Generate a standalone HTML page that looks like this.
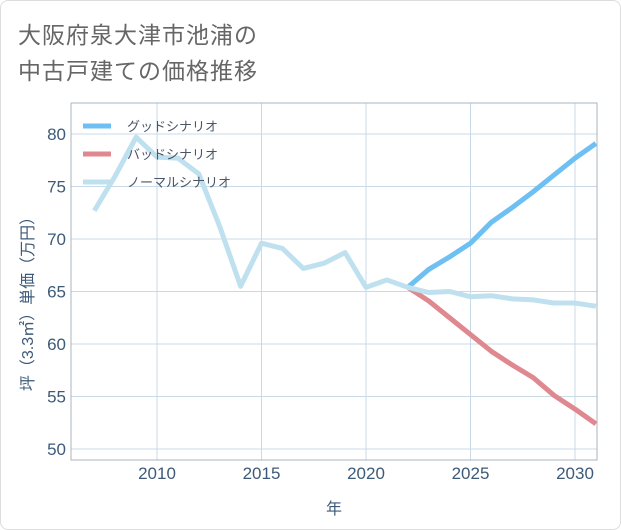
<!DOCTYPE html>
<html><head><meta charset="utf-8"><style>
body{margin:0;background:#fff;}
#card{position:absolute;left:0;top:0;width:619px;height:528px;border:1px solid #ddd;border-radius:8px;background:#fff;}
.t{position:absolute;left:18px;font:23px "Liberation Sans","Noto Sans CJK JP",sans-serif;color:#666;letter-spacing:1px;}
svg{position:absolute;left:0;top:0;}
</style></head><body>
<div id="card"></div>
<div class="t" style="top:16px">大阪府泉大津市池浦の</div>
<div class="t" style="top:52px">中古戸建ての価格推移</div>
<svg id="c" width="621" height="530"></svg>
<script>
const years=[2007,2008,2009,2010,2011,2012,2013,2014,2015,2016,2017,2018,2019,2020,2021,2022,2023,2024,2025,2026,2027,2028,2029,2030,2031];
const normal=[72.7,76.0,79.7,77.8,77.7,76.2,71.2,65.5,69.6,69.1,67.2,67.7,68.7,65.4,66.1,65.4,64.9,65.0,64.5,64.6,64.3,64.2,63.9,63.9,63.6];
const goodYears=[2022,2023,2024,2025,2026,2027,2028,2029,2030,2031];
const good=[65.4,67.1,68.3,69.6,71.6,73.0,74.5,76.1,77.7,79.1];
const bad=[65.4,64.1,62.5,60.9,59.3,58.0,56.8,55.1,53.8,52.4];
const xTicks=[2010,2015,2020,2025,2030];
const yTicks=[50,55,60,65,70,75,80];
const L=71,R=597,T=103,B=460;
const x=v=>157+(v-2010)*20.9;
const y=v=>134+(80-v)*10.5;
const svg=document.getElementById('c');
const NS='http://www.w3.org/2000/svg';
function mk(tag,at){const e=document.createElementNS(NS,tag);for(const k in at)e.setAttribute(k,at[k]);svg.appendChild(e);return e;}
xTicks.forEach(t=>{const l=mk('line',{x1:x(t),x2:x(t),y1:T,y2:B,stroke:'#c9d9e8','stroke-width':1});

const tx=mk('text',{x:x(t),y:479,'text-anchor':'middle','font-size':17,fill:'#3d5a7a','font-family':'Liberation Sans, sans-serif'});tx.textContent=t;
});
yTicks.forEach(t=>{const l=mk('line',{x1:L,x2:R,y1:y(t),y2:y(t),stroke:'#c9d9e8','stroke-width':1});

const tx=mk('text',{x:66,y:y(t)+6,'text-anchor':'end','font-size':17,fill:'#3d5a7a','font-family':'Liberation Sans, sans-serif'});tx.textContent=t;
});
const fr=mk('path',{d:`M${L},${T}V${B}H${R}V${T}H${L}`,fill:'none',stroke:'#aab4be','stroke-width':1});

function line(xs,vs,col,name){const p=mk('polyline',{points:xs.map((v,i)=>x(v)+','+y(vs[i])).join(' '),fill:'none',stroke:col,'stroke-width':5,'stroke-linejoin':'round'});
}
line(goodYears,bad,'#e0888f','bad-scenario-line');
line(goodYears,good,'#6ec0f2','good-scenario-line');
line(years,normal,'#bfe0ee','normal-scenario-line');
[['グッドシナリオ','#6ec0f2',126],['バッドシナリオ','#e0888f',154],['ノーマルシナリオ','#bfe0ee',182]].forEach(([n,c,yy])=>{
const s=mk('line',{x1:83,x2:111,y1:yy,y2:yy,stroke:c,'stroke-width':5});

const tx=mk('text',{x:127,y:yy+5,'font-size':13,fill:'#4a5566','font-family':'Liberation Sans, Noto Sans CJK JP, sans-serif'});tx.textContent=n;
});
const xt=mk('text',{x:334,y:514,'text-anchor':'middle','font-size':16,fill:'#3d5a7a','font-family':'Liberation Sans, Noto Sans CJK JP, sans-serif'});xt.textContent='年';

const yt=mk('text',{x:0,y:0,'text-anchor':'middle','font-size':16,fill:'#3d5a7a','font-family':'Liberation Sans, Noto Sans CJK JP, sans-serif',transform:'translate(33,300) rotate(-90)'});yt.textContent='坪（3.3㎡）単価（万円）';

</script>
</body></html>
